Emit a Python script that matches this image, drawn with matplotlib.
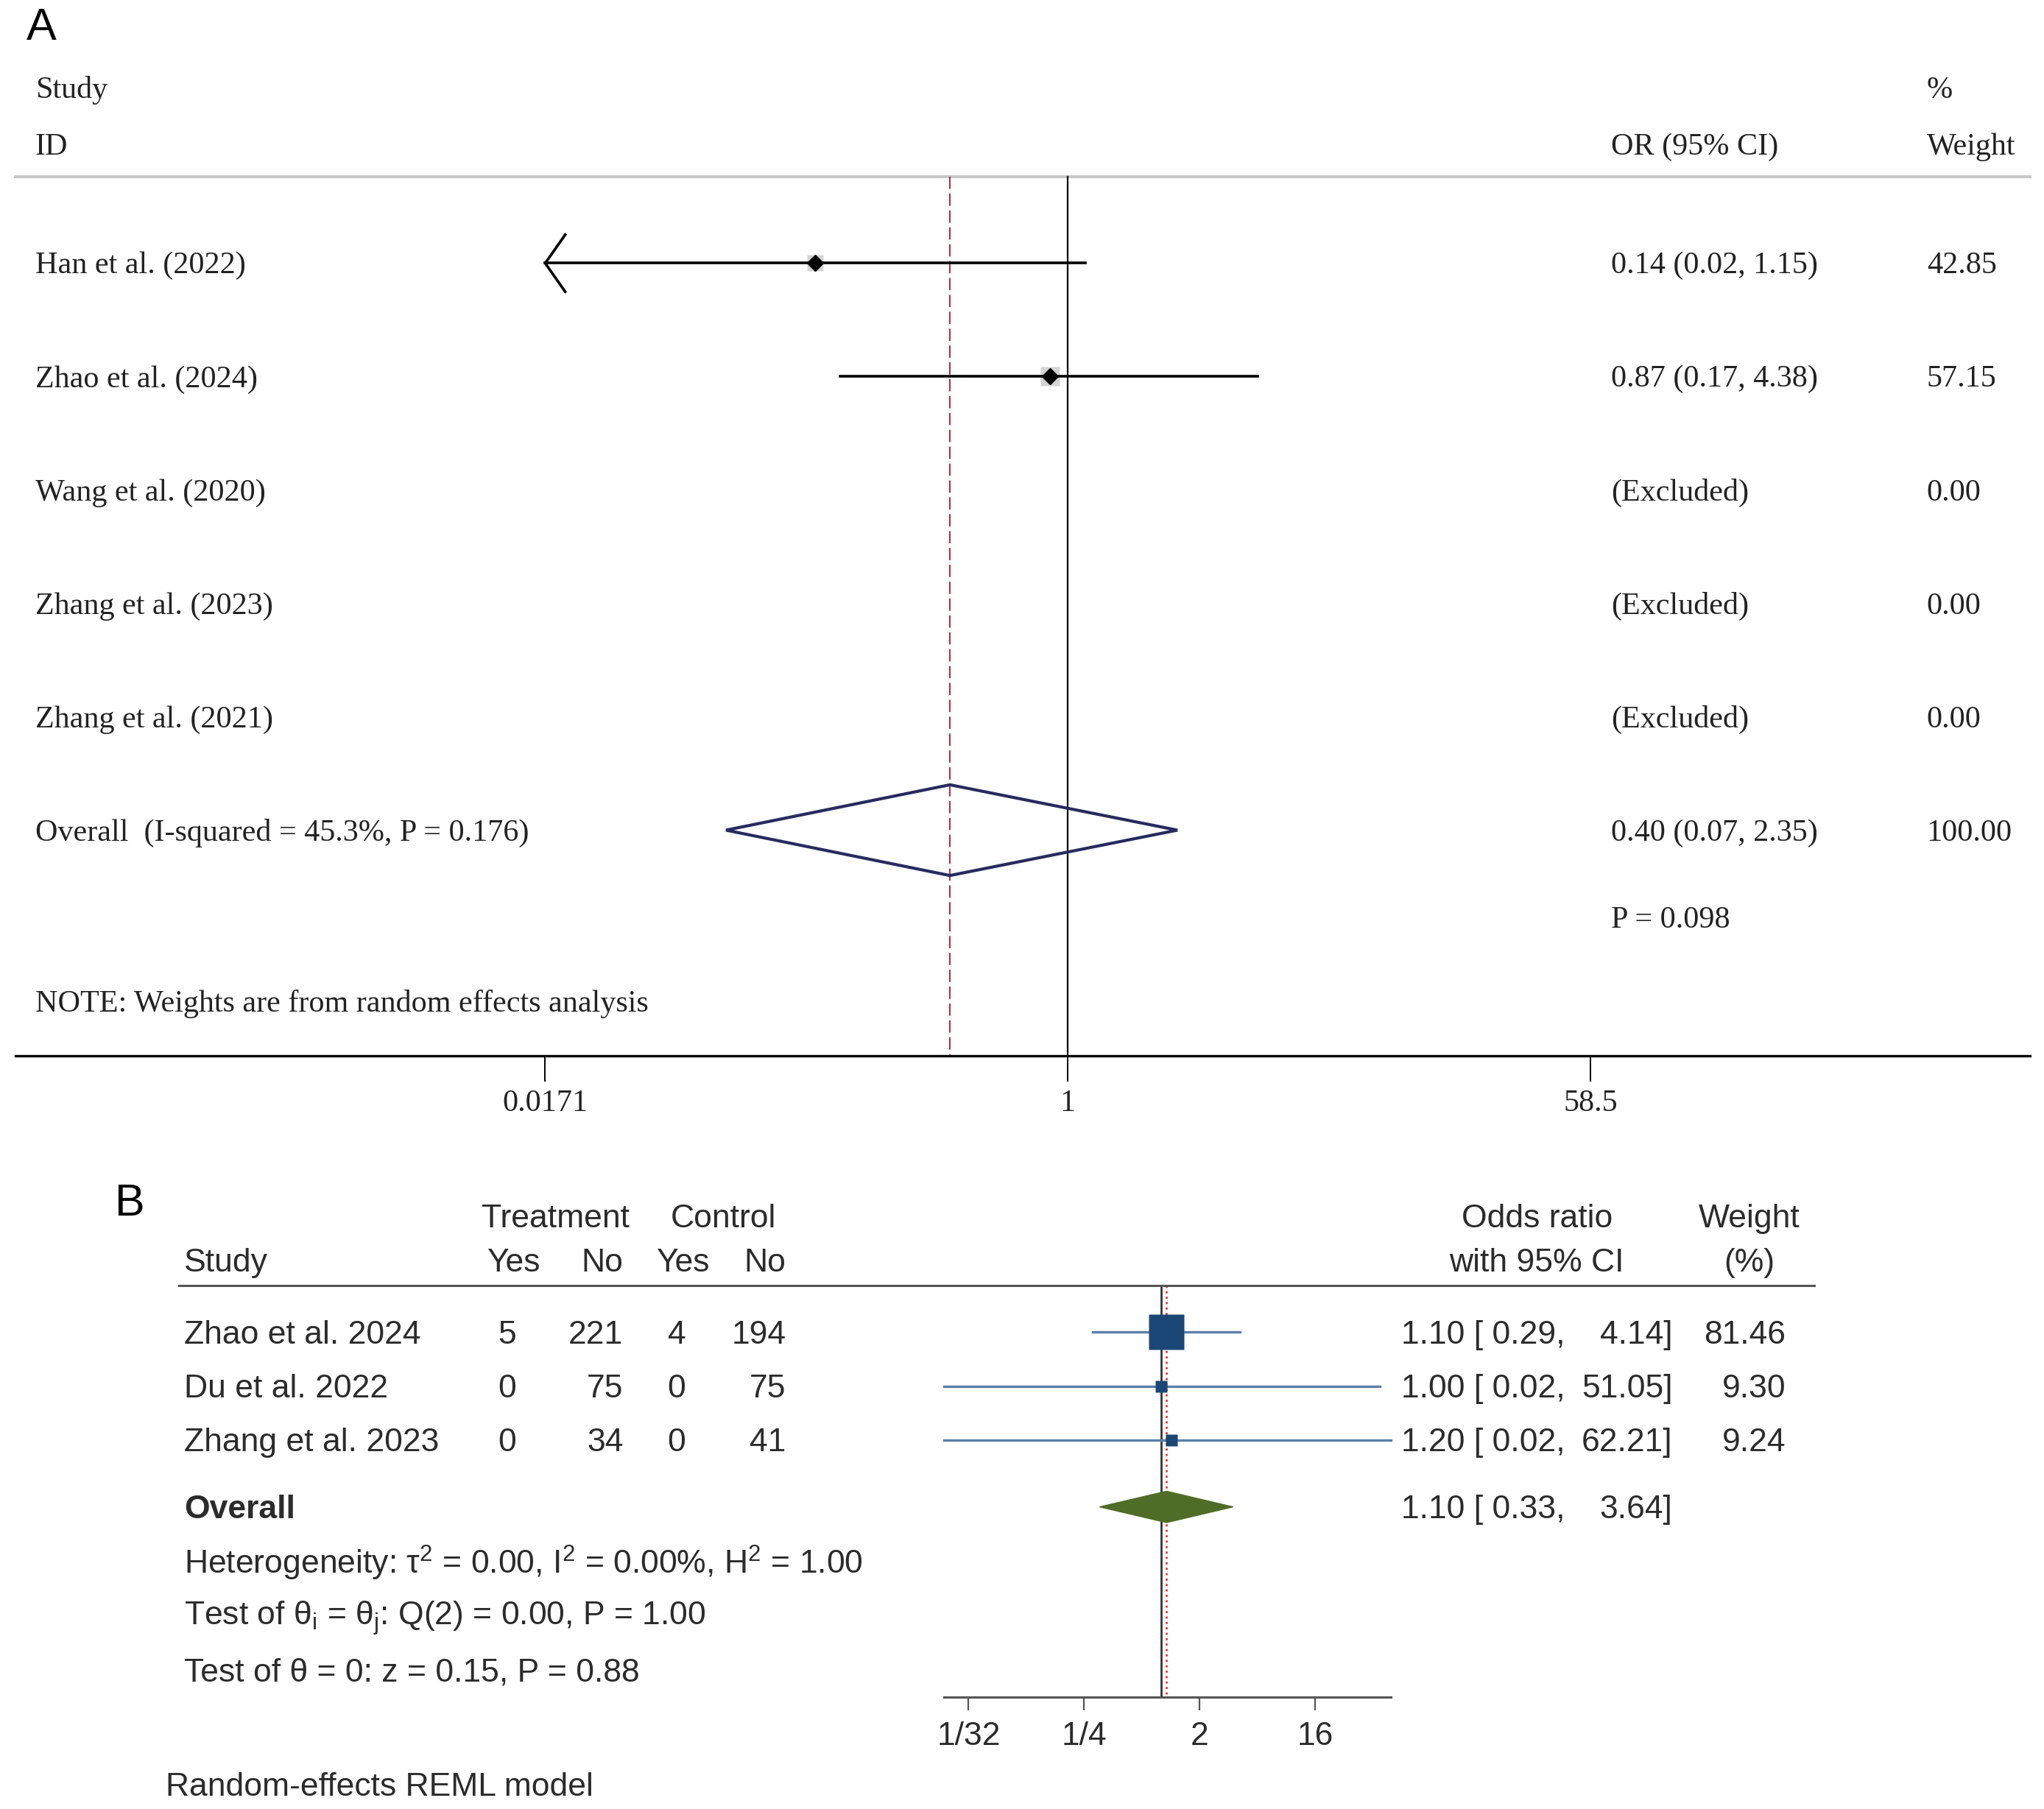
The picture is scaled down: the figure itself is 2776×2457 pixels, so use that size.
import numpy as np
import matplotlib
matplotlib.use('Agg')
import matplotlib.pyplot as plt
import matplotlib.transforms as mtransforms
from matplotlib.lines import Line2D
from matplotlib.path import Path

# ---- panel A data (Stata metan style) ----
studies_a = ['Han et al. (2022)', 'Zhao et al. (2024)', 'Wang et al. (2020)',
             'Zhang et al. (2023)', 'Zhang et al. (2021)']
or_a = [0.14, 0.87, np.nan, np.nan, np.nan]
lo_a = [0.017, 0.17, np.nan, np.nan, np.nan]
hi_a = [1.15, 4.38, np.nan, np.nan, np.nan]
weight_a = [42.85, 57.15, 0.00, 0.00, 0.00]
overall_a = [0.40, 0.07, 2.35]
i2_a = 45.3
phet_a = 0.176
pz_a = 0.098
ticks_a = [0.0171, 1, 58.5]
ticklabels_a = ['0.0171', '1', '58.5']

# ---- panel B data (Stata meta forestplot style) ----
studies_b = ['Zhao et al. 2024', 'Du et al. 2022', 'Zhang et al. 2023']
treat_yes = [5, 0, 0]
treat_no = [221, 75, 34]
ctrl_yes = [4, 0, 0]
ctrl_no = [194, 75, 41]
or_b = [1.10, 1.00, 1.20]
lo_b = [0.29, 0.02, 0.02]
hi_b = [4.14, 51.05, 62.21]
weight_b = [81.46, 9.30, 9.24]
overall_b = [1.10, 0.33, 3.64]
ticks_b = [1 / 32, 1 / 4, 2, 16]
ticklabels_b = ['1/32', '1/4', '2', '16']

plt.rcParams['mathtext.fontset'] = 'custom'
plt.rcParams['mathtext.rm'] = 'Liberation Sans'
plt.rcParams['mathtext.it'] = 'Liberation Sans:italic'

# layout helpers (reference measured on a 1568 x 1388 grid)
W, H = 1568.0, 1387.8
def fx(x):
    return x / W
def fy(y):
    return 1 - y / H

fig = plt.figure(figsize=(27.76, 24.57), dpi=100)

# ================= Panel A =================
serif = 'Liberation Serif'
txtA = '#222222'
fsA = 30.3
axA = fig.add_axes([fx(12), fy(810), fx(1557) - fx(12), 810 / H])
axA.set_xscale('log')
axA.set_xlim(np.exp(-8.19), np.exp(7.49))
axA.set_ylim(6.99, -2.32)
for s in ['top', 'left', 'right']:
    axA.spines[s].set_visible(False)
axA.spines['bottom'].set_linewidth(2.4)
axA.set_yticks([])
axA.set_xticks(ticks_a)
axA.set_xticklabels(ticklabels_a, fontfamily=serif, fontsize=fsA, color=txtA)
axA.xaxis.set_minor_locator(matplotlib.ticker.NullLocator())
axA.tick_params(axis='x', length=25, width=1.4, pad=8)
tA = mtransforms.blended_transform_factory(fig.transFigure, axA.transData)
dy = 0.025  # small baseline nudge for the serif text

line_top = -0.76
axA.axhline(line_top, color='#c8c8c8', lw=3, clip_on=False)
axA.plot([1, 1], [line_top, 6.99], color='black', lw=1.6, zorder=2)
axA.plot([overall_a[0]] * 2, [line_top, 6.99], color='#b0303a', lw=1.5,
         ls=(0, (8, 3)), zorder=2)

chevron = Path([(0.7, 1), (0, 0), (0.7, -1)],
               [Path.MOVETO, Path.LINETO, Path.LINETO])
for i, name in enumerate(studies_a):
    axA.text(fx(27), i + dy, name, transform=tA, ha='left', va='center',
             fontfamily=serif, fontsize=fsA, color=txtA)
    axA.text(fx(1478), i + dy, f'{weight_a[i]:.2f}', transform=tA, ha='left',
             va='center', fontfamily=serif, fontsize=fsA, color=txtA)
    if weight_a[i] > 0:
        lo = max(lo_a[i], ticks_a[0])
        hi = min(hi_a[i], ticks_a[-1])
        axA.plot([lo, hi], [i, i], color='black', lw=2.6, zorder=3)
        if lo_a[i] < ticks_a[0]:
            axA.plot(ticks_a[0], i, marker=chevron, ms=58, mfc='none',
                     mec='black', mew=2.6, zorder=3)
        box = 18.5 * np.sqrt(weight_a[i] / 57.15)
        axA.plot(or_a[i], i, marker='s', ms=box, color='#d4d4d4', mec='none', zorder=2.5)
        axA.plot(or_a[i], i, marker='D', ms=11, color='black', zorder=4)
        label = f'{or_a[i]:.2f} ({lo_a[i]:.2f}, {hi_a[i]:.2f})'
    else:
        label = '(Excluded)'
    axA.text(fx(1236), i + dy, label, transform=tA, ha='left', va='center',
             fontfamily=serif, fontsize=fsA, color=txtA)

ov = len(studies_a)
axA.fill([overall_a[1], overall_a[0], overall_a[2], overall_a[0]],
         [ov, ov - 0.4, ov, ov + 0.4], facecolor='none', edgecolor='#262b60',
         lw=3, zorder=5)
axA.text(fx(27), ov + dy, f'Overall  (I-squared = {i2_a}%, P = {phet_a})', transform=tA,
         ha='left', va='center', fontfamily=serif, fontsize=fsA, color=txtA)
axA.text(fx(1236), ov + dy, f'{overall_a[0]:.2f} ({overall_a[1]:.2f}, {overall_a[2]:.2f})',
         transform=tA, ha='left', va='center', fontfamily=serif, fontsize=fsA, color=txtA)
axA.text(fx(1478), ov + dy, '100.00', transform=tA, ha='left', va='center',
         fontfamily=serif, fontsize=fsA, color=txtA)
axA.text(fx(1236), 5.77 + dy, f'P = {pz_a}', transform=tA, ha='left', va='center',
         fontfamily=serif, fontsize=fsA, color=txtA)
axA.text(fx(27), 6.51 + dy, 'NOTE: Weights are from random effects analysis', transform=tA,
         ha='left', va='center', fontfamily=serif, fontsize=fsA, color=txtA)

axA.text(fx(27), -1.55 + dy, 'Study', transform=tA, ha='left', va='center',
         fontfamily=serif, fontsize=fsA, color=txtA)
axA.text(fx(27), -1.05 + dy, 'ID', transform=tA, ha='left', va='center',
         fontfamily=serif, fontsize=fsA, color=txtA)
axA.text(fx(1236), -1.05 + dy, 'OR (95% CI)', transform=tA, ha='left', va='center',
         fontfamily=serif, fontsize=fsA, color=txtA)
axA.text(fx(1478), -1.55 + dy, '%', transform=tA, ha='left', va='center',
         fontfamily=serif, fontsize=fsA, color=txtA)
axA.text(fx(1478), -1.05 + dy, 'Weight', transform=tA, ha='left', va='center',
         fontfamily=serif, fontsize=fsA, color=txtA)

fig.text(fx(20), fy(22), 'A', ha='left', va='center', fontfamily='Liberation Sans',
         fontsize=44, color='black')

# ================= Panel B =================
sans = 'Liberation Sans'
txtB = '#2b2b2b'
fsB = 32
axB = fig.add_axes([fx(700), fy(1302), fx(1080) - fx(700), (1302 - 986) / H])
axB.set_xscale('log')
axB.set_xlim(0.0114, 84.5)
axB.set_ylim(6.747, -0.867)
for s in ['top', 'left', 'right']:
    axB.spines[s].set_visible(False)
axB.spines['bottom'].set_color('#555555')
axB.spines['bottom'].set_linewidth(2.2)
axB.spines['bottom'].set_bounds(min(lo_b), max(hi_b))
axB.set_yticks([])
axB.set_xticks(ticks_b)
axB.set_xticklabels(ticklabels_b, fontfamily=sans, fontsize=fsB, color=txtB)
axB.xaxis.set_minor_locator(matplotlib.ticker.NullLocator())
axB.tick_params(axis='x', length=13, width=1.6, color='#555555', pad=11)
tB = mtransforms.blended_transform_factory(fig.transFigure, axB.transData)
db = 0.05

fig.add_artist(Line2D([fx(137), fx(1392)], [fy(986)] * 2, transform=fig.transFigure,
                      color='#555555', lw=2.2))
axB.plot([1, 1], [-0.867, 6.747], color='#333333', lw=2, zorder=2)
axB.plot([overall_b[0]] * 2, [-0.867, 6.747], color='#ff2a2a', lw=2, ls=':', zorder=2)

for i, name in enumerate(studies_b):
    axB.plot([lo_b[i], hi_b[i]], [i, i], color='#5a7fa8', lw=2.4, zorder=3)
    axB.plot(or_b[i], i, marker='s', ms=35 * np.sqrt(weight_b[i] / weight_b[0]),
             color='#1b4777', mec='none', zorder=4)
    axB.text(fx(141), i + db, name, transform=tB, ha='left', va='center',
             fontfamily=sans, fontsize=fsB, color=txtB)
    axB.text(fx(389), i + db, str(treat_yes[i]), transform=tB, ha='center', va='center',
             fontfamily=sans, fontsize=fsB, color=txtB)
    axB.text(fx(478), i + db, str(treat_no[i]), transform=tB, ha='right', va='center',
             fontfamily=sans, fontsize=fsB, color=txtB)
    axB.text(fx(519), i + db, str(ctrl_yes[i]), transform=tB, ha='center', va='center',
             fontfamily=sans, fontsize=fsB, color=txtB)
    axB.text(fx(603), i + db, str(ctrl_no[i]), transform=tB, ha='right', va='center',
             fontfamily=sans, fontsize=fsB, color=txtB)
    axB.text(fx(1075), i + db, f'{or_b[i]:.2f} [ {lo_b[i]:.2f},', transform=tB, ha='left',
             va='center', fontfamily=sans, fontsize=fsB, color=txtB)
    axB.text(fx(1283), i + db, f'{hi_b[i]:.2f}]', transform=tB, ha='right', va='center',
             fontfamily=sans, fontsize=fsB, color=txtB)
    axB.text(fx(1370), i + db, f'{weight_b[i]:.2f}', transform=tB, ha='right', va='center',
             fontfamily=sans, fontsize=fsB, color=txtB)

ovb = 3.23
axB.fill([overall_b[1], overall_b[0], overall_b[2], overall_b[0]],
         [ovb, ovb - 0.29, ovb, ovb + 0.29], facecolor='#4f6d26', edgecolor='#4f6d26',
         lw=1, zorder=5)
axB.text(fx(141), ovb + db, 'Overall', transform=tB, ha='left', va='center',
         fontfamily=sans, fontsize=fsB, fontweight='bold', color=txtB)
axB.text(fx(1075), ovb + db, f'{overall_b[0]:.2f} [ {overall_b[1]:.2f},', transform=tB,
         ha='left', va='center', fontfamily=sans, fontsize=fsB, color=txtB)
axB.text(fx(1283), ovb + db, f'{overall_b[2]:.2f}]', transform=tB, ha='right', va='center',
         fontfamily=sans, fontsize=fsB, color=txtB)
axB.text(fx(141), 4.22 + db,
         r'Heterogeneity: $\mathregular{τ^2}$ = 0.00, $\mathregular{I^2}$ = 0.00%, '
         r'$\mathregular{H^2}$ = 1.00',
         transform=tB, ha='left', va='center', fontfamily=sans, fontsize=fsB, color=txtB)
axB.text(fx(141), 5.23 + db,
         r'Test of $\mathregular{θ_i}$ = $\mathregular{θ_j}$: Q(2) = 0.00, P = 1.00',
         transform=tB, ha='left', va='center', fontfamily=sans, fontsize=fsB, color=txtB)
axB.text(fx(141), 6.24 + db, 'Test of θ = 0: z = 0.15, P = 0.88', transform=tB,
         ha='left', va='center', fontfamily=sans, fontsize=fsB, color=txtB)
axB.text(fx(127), 8.36 + db, 'Random-effects REML model', transform=tB, ha='left',
         va='center', fontfamily=sans, fontsize=fsB, color=txtB)

# header rows
hy1, hy2 = -2.14 + db, -1.33 + db
for x, s in [(426, 'Treatment'), (555, 'Control'), (1179, 'Odds ratio'), (1342, 'Weight')]:
    axB.text(fx(x), hy1, s, transform=tB, ha='center', va='center',
             fontfamily=sans, fontsize=fsB, color=txtB)
for x, s in [(394, 'Yes'), (462, 'No'), (524, 'Yes'), (587, 'No'),
             (1179, 'with 95% CI'), (1342, '(%)')]:
    axB.text(fx(x), hy2, s, transform=tB, ha='center', va='center',
             fontfamily=sans, fontsize=fsB, color=txtB)
axB.text(fx(141), hy2, 'Study', transform=tB, ha='left', va='center',
         fontfamily=sans, fontsize=fsB, color=txtB)

fig.text(fx(88), fy(924), 'B', ha='left', va='center', fontfamily=sans,
         fontsize=44, color='black')

fig.savefig('out.png', dpi=100)
